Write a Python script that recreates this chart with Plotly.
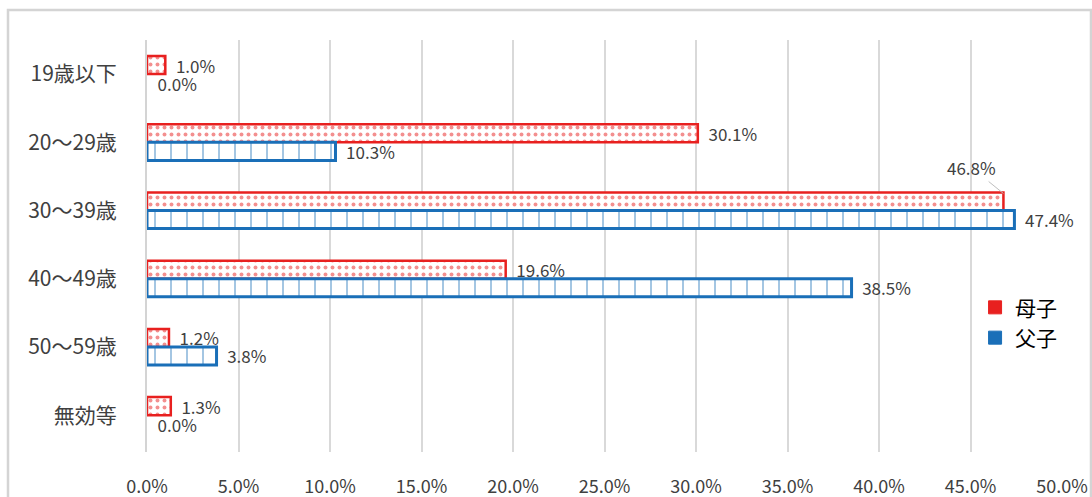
import plotly.graph_objects as go

categories = ['19歳以下', '20～29歳', '30～39歳', '40～49歳', '50～59歳', '無効等']
boshi = [1.0, 30.1, 46.8, 19.6, 1.2, 1.3]
fushi = [0.0, 10.3, 47.4, 38.5, 3.8, 0.0]
x_ticks = [0, 5, 10, 15, 20, 25, 30, 35, 40, 45, 50]

FONT = 'Noto Sans CJK JP'
RED = '#e8201f'
BLUE = '#1a6fb8'
PAD = '\u00a0\u00a0'

# 46.8% label sits above the bar with a leader line, like the original
boshi_pos = ['outside'] * len(boshi)
boshi_pos[2] = 'none'

fig = go.Figure()
fig.add_trace(go.Bar(
    y=categories, x=boshi, name='母子', orientation='h', showlegend=False,
    marker=dict(color='white',
                line=dict(color=RED, width=[2.5 if v > 0 else 0 for v in boshi]),
                pattern=dict(shape='.', fgcolor=RED, bgcolor='white', size=7, solidity=0.25)),
    text=[f'{PAD}{v:.1f}%' for v in boshi], textposition=boshi_pos,
    textfont=dict(size=17, color='#404040', family=FONT),
    constraintext='none', cliponaxis=False,
))
fig.add_trace(go.Bar(
    y=categories, x=fushi, name='父子', orientation='h', showlegend=False,
    marker=dict(color='white',
                line=dict(color=BLUE, width=[3 if v > 0 else 0 for v in fushi]),
                pattern=dict(shape='|', fgcolor=BLUE, bgcolor='white', size=16, solidity=0.1)),
    text=[f'{PAD}{v:.1f}%' for v in fushi], textposition='outside',
    textfont=dict(size=17, color='#404040', family=FONT),
    constraintext='none', cliponaxis=False,
))

# legend entries (zero-width outlines on the 0.0% bars would blank the legend swatch)
for name, col in [('母子', RED), ('父子', BLUE)]:
    fig.add_trace(go.Scatter(
        x=[None], y=[None], name=name, mode='markers',
        marker=dict(symbol='square', size=13, color=col,
                    line=dict(color=col, width=1)),
    ))

fig.add_annotation(
    x=boshi[2], y=categories[2], yshift=17, text=f'{boshi[2]:.1f}%',
    showarrow=True, arrowhead=0, arrowwidth=1, arrowcolor='#bfbfbf',
    ax=-32, ay=-26, standoff=0,
    font=dict(size=17, color='#404040', family=FONT),
)

fig.update_layout(
    width=1092, height=497,
    margin=dict(l=147, r=30, t=40, b=45),
    plot_bgcolor='white', paper_bgcolor='white',
    barmode='group', bargap=0.47, bargroupgap=0.0,
    font=dict(family=FONT, color='#404040'),
    legend=dict(x=0.905, y=0.4, xanchor='left', yanchor='top',
                font=dict(size=21, color='black', family=FONT),
                bgcolor='rgba(0,0,0,0)', itemwidth=30),
    shapes=[dict(type='rect', xref='paper', yref='paper',
                 x0=(8 - 147) / 915, x1=(1091 - 147) / 915,
                 y0=-(497 - 452 + 5) / 412, y1=(452 - 10) / 412,
                 line=dict(color='#d4d4d4', width=2.5), layer='below')],
)
fig.update_xaxes(
    range=[0, 50], tickvals=x_ticks, ticktext=[f'{v:.1f}%' for v in x_ticks],
    showgrid=True, gridcolor='#d9d9d9', gridwidth=1.5, zeroline=False,
    tickfont=dict(size=18, color='#404040', family=FONT), ticklabelstandoff=22,
    automargin=False,
)
fig.update_yaxes(
    range=[5.54, -0.5], showline=True, linecolor='#d4d4d4', linewidth=2,
    tickfont=dict(size=21, color='#404040', family=FONT), ticklabelstandoff=24,
    automargin=False,
)

# drop the page's default body margin so the figure fills the window
fig.write_html('out.html', config={'displayModeBar': False},
               post_script="document.body.style.margin='0';")
